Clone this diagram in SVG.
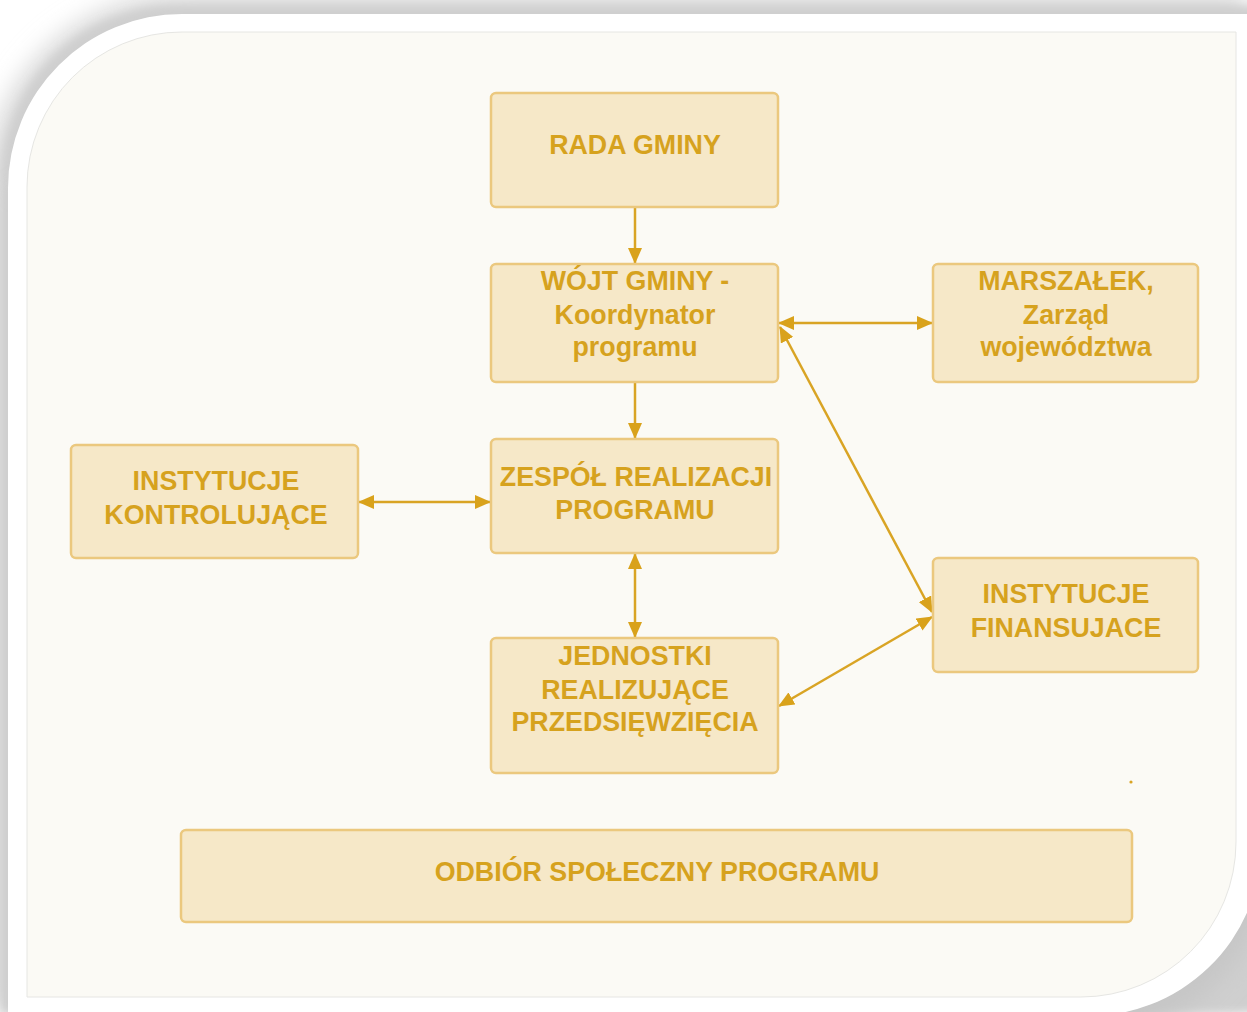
<svg xmlns="http://www.w3.org/2000/svg" width="1247" height="1012" viewBox="0 0 1247 1012">
<defs>
<style>
.box{fill:#F6E8C8;stroke:#EBC87E;stroke-width:2.5}
.t{font-family:"Liberation Sans",Arial,sans-serif;font-weight:bold;font-size:26.8px;fill:#D6A21E;text-anchor:middle}
.c{stroke:#D9A424;stroke-width:2.5;fill:none}
</style>
<filter id="blurS" x="-10%" y="-10%" width="120%" height="120%"><feGaussianBlur stdDeviation="4"/></filter>
<filter id="blurW" x="-10%" y="-10%" width="120%" height="120%"><feGaussianBlur stdDeviation="12"/></filter>
<marker id="ah" viewBox="0 0 16 14" refX="15" refY="7" markerWidth="16" markerHeight="14" markerUnits="userSpaceOnUse" orient="auto-start-reverse">
<path d="M0,0 L16,7 L0,14 Z" fill="#D9A21B"/>
</marker>
</defs>
<rect width="1247" height="1012" fill="#ffffff"/>
<g id="frame">
<path d="M-14,190 A196 196 0 0 1 182,-6 L1247,-6 L1247,1012 L-14,1012 Z" fill="#d8d8d8" filter="url(#blurW)"/>
<path d="M2,180 A174 174 0 0 1 176,6 L1260,6 L1260,1012 L2,1012 Z" fill="#cfcfcf" filter="url(#blurS)"/>
<path d="M20,190 L1270,190 L1270,842 A189 189 0 0 1 1081,1040 L20,1040 Z" fill="#c6c6c6" filter="url(#blurW)"/>
<path d="M8,188 A174 174 0 0 1 182,14 L1262,14 L1262,842 A174 174 0 0 1 1081,1016 L8,1016 Z" fill="#ffffff"/>
<path d="M27,187 A155 155 0 0 1 182,32 L1236,32 L1236,842 A155 155 0 0 1 1081,997 L27,997 Z" fill="#FBFAF5" stroke="#e6e6e3" stroke-width="1"/>
<circle cx="1131" cy="782" r="1.6" fill="#D9A424"/>
</g>
<g id="connectors">
<line class="c" x1="635" y1="207" x2="635" y2="263" marker-end="url(#ah)"/>
<line class="c" x1="635" y1="382" x2="635" y2="438" marker-end="url(#ah)"/>
<line class="c" x1="635" y1="554" x2="635" y2="637" marker-start="url(#ah)" marker-end="url(#ah)"/>
<line class="c" x1="359" y1="502" x2="490" y2="502" marker-start="url(#ah)" marker-end="url(#ah)"/>
<line class="c" x1="779" y1="323" x2="932" y2="323" marker-start="url(#ah)" marker-end="url(#ah)"/>
<line class="c" x1="780" y1="327" x2="932" y2="612" marker-start="url(#ah)" marker-end="url(#ah)"/>
<line class="c" x1="779" y1="706" x2="932" y2="617" marker-start="url(#ah)" marker-end="url(#ah)"/>
</g>
<g id="rada">
<rect class="box" x="491" y="93" width="287" height="114" rx="5"/>
<text class="t" x="635" y="154">RADA GMINY</text>
</g>
<g id="wojt">
<rect class="box" x="491" y="264" width="287" height="118" rx="5"/>
<text class="t" x="635" y="290">WÓJT GMINY -</text>
<text class="t" x="635" y="324">Koordynator</text>
<text class="t" x="635" y="356">programu</text>
</g>
<g id="marszalek">
<rect class="box" x="933" y="264" width="265" height="118" rx="5"/>
<text class="t" x="1066" y="290">MARSZAŁEK,</text>
<text class="t" x="1066" y="324">Zarząd</text>
<text class="t" x="1066" y="356">województwa</text>
</g>
<g id="zespol">
<rect class="box" x="491" y="439" width="287" height="114" rx="5"/>
<text class="t" x="636" y="486">ZESPÓŁ REALIZACJI</text>
<text class="t" x="635" y="519">PROGRAMU</text>
</g>
<g id="kontrolujace">
<rect class="box" x="71" y="445" width="287" height="113" rx="5"/>
<text class="t" x="216" y="490">INSTYTUCJE</text>
<text class="t" x="216" y="524">KONTROLUJĄCE</text>
</g>
<g id="finansujace">
<rect class="box" x="933" y="558" width="265" height="114" rx="5"/>
<text class="t" x="1066" y="603">INSTYTUCJE</text>
<text class="t" x="1066" y="637">FINANSUJACE</text>
</g>
<g id="jednostki">
<rect class="box" x="491" y="638" width="287" height="135" rx="5"/>
<text class="t" x="635" y="665">JEDNOSTKI</text>
<text class="t" x="635" y="699">REALIZUJĄCE</text>
<text class="t" x="635" y="731">PRZEDSIĘWZIĘCIA</text>
</g>
<g id="odbior">
<rect class="box" x="181" y="830" width="951" height="92" rx="5"/>
<text class="t" x="657" y="881">ODBIÓR SPOŁECZNY PROGRAMU</text>
</g>
</svg>
